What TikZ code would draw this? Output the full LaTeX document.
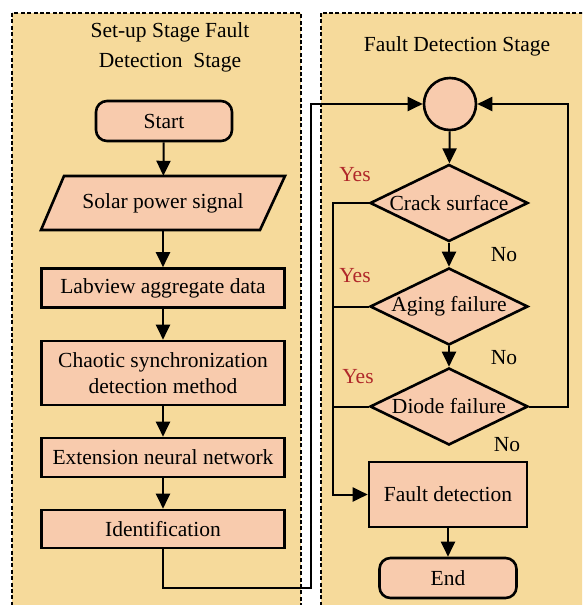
\documentclass[tikz,border=0pt]{standalone}
\usepackage{fontspec}
\setmainfont{Liberation Serif}
\usetikzlibrary{shapes.geometric,arrows.meta}
\definecolor{panel}{HTML}{F6DA9B}
\definecolor{boxfill}{HTML}{F8CBAD}
\definecolor{yesred}{HTML}{B0282A}

\begin{document}
\begin{tikzpicture}[x=1pt,y=-1pt,
  font=\fontsize{21.5}{26}\selectfont,
  box/.style={draw, line width=2.6pt, fill=boxfill, minimum width=243pt,
    inner sep=0pt, align=center},
  term/.style={box, rounded corners=11pt, minimum width=136pt, minimum height=40pt},
  dec/.style={draw, diamond, line width=2.6pt, fill=boxfill, inner sep=0pt,
    minimum width=158pt, minimum height=77pt},
  flow/.style={line width=2pt, -{Triangle[length=15pt,width=14pt]}},
  link/.style={line width=2pt},
  stage/.style={draw, line width=2.8pt, dash pattern=on 4pt off 2.4pt, fill=panel},
  ans/.style={inner sep=0pt},
  yes/.style={ans, text=yesred}
]
\useasboundingbox (0,0) rectangle (582,605);
\fill[white] (0,0) rectangle (582,605);
\clip (0,0) rectangle (582,605);

% stage panels
\path[stage] (12,13) rectangle (301,620);
\path[stage] (321,13) rectangle (600,620);

\node[ans, align=center] (titleL) at (170,47) {Set-up Stage Fault\\[4pt]Detection\ \ Stage};
\node[ans] (titleR) at (457,46) {Fault Detection Stage};

% set-up stage column
\node[term] (start) at (164,121) {Start};
\draw[line width=2.6pt, fill=boxfill] (64,176) -- (285,176) -- (260,230) -- (41,230) -- cycle;
\node[inner sep=0pt, minimum width=244pt, minimum height=54pt] (solar) at (163,203) {Solar power signal};
\node[box, minimum height=39pt] (labview) at (163,288) {Labview aggregate data};
\node[box, minimum height=64pt] (chaotic) at (163,373) {Chaotic synchronization\\detection method};
\node[box, minimum height=39pt] (enn) at (163,457.5) {Extension neural network};
\node[box, minimum height=38pt] (ident) at (163,529) {Identification};

\draw[flow] (start) -- (solar);
\draw[flow] (solar) -- (labview);
\draw[flow] (labview) -- (chaotic);
\draw[flow] (chaotic) -- (enn);
\draw[flow] (enn) -- (ident);

% fault detection column
\node[draw, circle, line width=2.6pt, fill=boxfill, minimum size=52pt, inner sep=0pt] (hub) at (450,104) {};
\node[dec] (crack) at (449,203) {\makebox[0pt]{Crack surface}};
\node[dec] (aging) at (449,306.5) {\makebox[0pt]{Aging failure}};
\node[dec] (diode) at (449,406.5) {\makebox[0pt]{Diode failure}};
\node[box, minimum width=158pt, minimum height=65pt] (fault) at (448,494.5) {Fault detection};
\node[term, minimum width=137pt] (finish) at (448,578) {End};

\draw[flow] (hub) -- (crack);
\draw[flow] (crack) -- (aging);
\draw[flow] (aging) -- (diode);
\draw[flow] (fault) -- (finish);

% hand-over from the set-up stage
\coordinate (hl) at (311,588);
\coordinate (ht) at (311,104);
\draw[flow] (ident.south) |- (hl) -- (ht) -- (hub.west);

% "No" return loop
\coordinate (rl) at (568,406.5);
\draw[flow] (diode.east) -- (rl) |- (hub.east);

% "Yes" bus
\coordinate (yb) at (333,203);
\draw[flow] (crack.west) -- (yb) |- (fault.west);
\coordinate (ya) at (333,306.5);
\coordinate (yd) at (333,406.5);
\draw[link] (aging.west) -- (ya);
\draw[link] (diode.west) -- (yd);

\node[yes] (yes1) at (355,175) {Yes};
\node[yes] (yes2) at (355,276) {Yes};
\node[yes] (yes3) at (358,377) {Yes};
\node[ans] (no1) at (504,255) {No};
\node[ans] (no2) at (504,358) {No};
\node[ans] (no3) at (507,445) {No};
\end{tikzpicture}
\end{document}
